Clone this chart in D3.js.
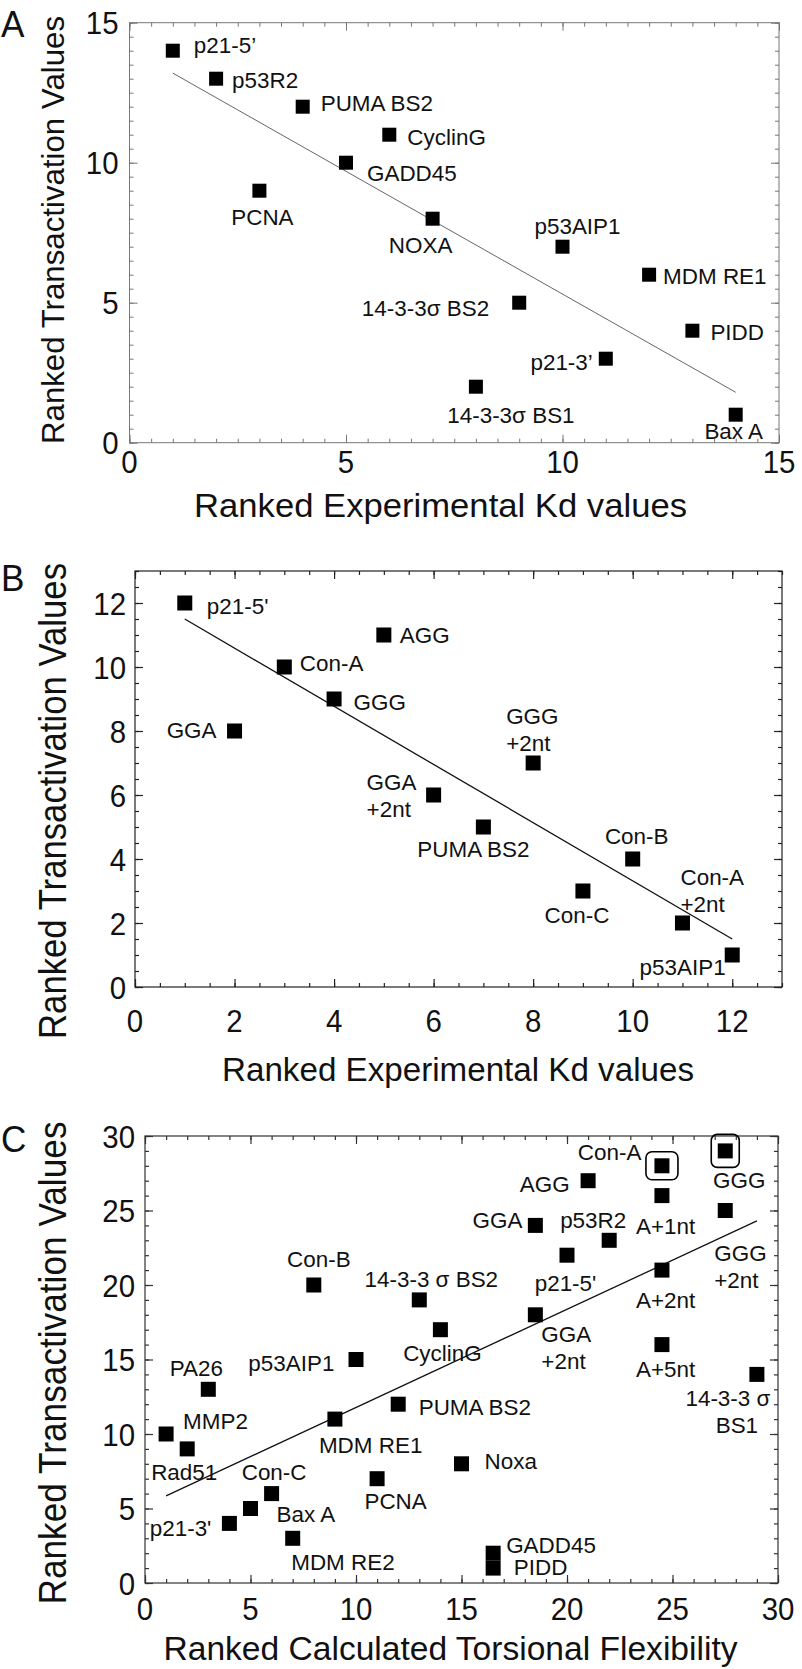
<!DOCTYPE html>
<html><head><meta charset="utf-8">
<script src="https://cdn.jsdelivr.net/npm/d3@7"></script>
<style>
body{margin:0;background:#fff}
svg{display:block}
text{font-family:"Liberation Sans",Arial,Helvetica,sans-serif;fill:#111}
</style>
</head><body>
<svg id="chart" width="802" height="1669"></svg>
<script>
// ---------- DATA ----------
// Panel A
const namesA = ["p21-5\u2019","p53R2","PUMA BS2","CyclinG","GADD45","PCNA","NOXA","p53AIP1","MDM RE1","14-3-3\u03c3 BS2","PIDD","p21-3\u2019","14-3-3\u03c3 BS1","Bax A"];
const xA = [1,2,4,6,5,3,7,10,12,9,13,11,8,14];
const yA = [14,13,12,11,10,9,8,7,6,5,4,3,2,1];
const fitA = [[1,13.2],[14,1.8]];
const xTicksA = [0,5,10,15];
const yTicksA = [0,5,10,15];

// Panel B
const namesB = ["p21-5'","GGA","Con-A","GGG","AGG","GGA\n+2nt","PUMA BS2","GGG\n+2nt","Con-C","Con-B","Con-A\n+2nt","p53AIP1"];
const xB = [1,2,3,4,5,6,7,8,9,10,11,12];
const yB = [12,8,10,9,11,6,5,7,3,4,2,1];
const fitB = [[1,11.5],[12,1.5]];
const xTicksB = [0,2,4,6,8,10,12];
const yTicksB = [0,2,4,6,8,10,12];

// Panel C
const namesC = ["MMP2","Rad51","PA26","p21-3'","Bax A","Con-C","MDM RE2","Con-B","MDM RE1","p53AIP1","PCNA","PUMA BS2","14-3-3 \u03c3 BS2","CyclinG","Noxa","GADD45","PIDD","GGA","GGA\n+2nt","p21-5'","AGG","p53R2","Con-A","A+1nt","A+2nt","A+5nt","GGG","GGG\n+2nt","14-3-3 \u03c3\nBS1"];
const xC = [1,2,3,4,5,6,7,8,9,10,11,12,13,14,15,16.5,16.5,18.5,18.5,20,21,22,24.5,24.5,24.5,24.5,27.5,27.5,29];
const yC = [10,9,13,4,5,6,3,20,11,15,7,12,19,17,8,2,1,24,18,22,27,23,28,26,21,16,29,25,14];
const fitC = [[1,5.85],[29,24.3]];
const boxedC = ["Con-A","GGG"];
const xTicksC = [0,5,10,15,20,25,30];
const yTicksC = [0,5,10,15,20,25,30];

// ---------- LABEL PLACEMENT (pixels relative to marker) ----------
const labA = {
  anchor: ["start","start","start","start","start","middle","middle","middle","start","end","start","end","middle","middle"],
  dx: [21,16,18,18,21,3,-12,15,14,-30,18,-13,35,-2],
  dy: [-6,1,-4,2,10,26,26,-21,1,5,1,3,28,16]
};
const labB = {
  anchor: ["start","end","start","start","start","start","middle","start","middle","middle","start","end"],
  dx: [22,-18,15.5,19.5,16,-67,-10,-27,-6,4,-2,-6.6],
  dy: [3,-1,-4,3,0,[-12.7,14],22,[-47,-20],24,-23,[-46,-19],12]
};
const labC = {
  anchor: ["start","middle","middle","end","start","middle","start","middle","start","end","middle","start","middle","middle","start","start","start","end","start","middle","end","middle","end","middle","middle","middle","middle","start","middle"],
  dx: [17,-3,-12,-18,26,2.5,-1.5,5,-16,-21.6,18.5,20.5,12,2,23,13,20.6,-13,6,-1.5,-18.4,-16,-20.6,3.6,3.6,3.6,14,-11,[-29,-20]],
  dy: [-13,23,-21,4.5,6,-22,24,-26,26,3.3,22,3,-21,23,-3,-8.4,-1,-5.4,[19.6,46.6],28,3.4,-20.7,-13.7,30,30,24,28.7,[42.8,69.8],[24,51]]
};

// ---------- DRAWING ----------
const svg = d3.select("#chart");

function addText(g, str, px, py, o) {
  const t = g.append("text")
    .attr("transform", `translate(${px},${py})` + (o.rotate ? ` rotate(${o.rotate})` : ` scale(${o.sx == null ? 1 : o.sx},1)`))
    .attr("text-anchor", o.anchor || "start")
    .style("font-size", o.size + "px")
    .text(str);
  if (o.len) t.attr("textLength", o.len).attr("lengthAdjust", "spacingAndGlyphs");
  return t;
}

function drawPanel(cfg) {
  const g = svg.append("g");
  const x = d3.scaleLinear().domain(cfg.xDomain).range([cfg.left, cfg.right]);
  const y = d3.scaleLinear().domain(cfg.yDomain).range([cfg.bottom, cfg.top]);

  // ticks (inward on all sides)
  const mk = (axisFn, scale, vals, size, transform) => {
    const a = g.append("g").attr("transform", transform)
      .call(axisFn(scale).tickValues(vals).tickSize(-size).tickFormat(""));
    a.select(".domain").remove();
    a.selectAll(".tick line").attr("stroke", cfg.frameColor).attr("stroke-width", cfg.frameWidth);
  };
  [[cfg.xMinor, cfg.minorLen], [cfg.xMajor, cfg.majorLen]].forEach(([v, s]) => {
    mk(d3.axisBottom, x, v, s, `translate(0,${cfg.bottom})`);
    mk(d3.axisTop, x, v, s, `translate(0,${cfg.top})`);
  });
  [[cfg.yMinor, cfg.minorLen], [cfg.yMajor, cfg.majorLen]].forEach(([v, s]) => {
    mk(d3.axisLeft, y, v, s, `translate(${cfg.left},0)`);
    mk(d3.axisRight, y, v, s, `translate(${cfg.right},0)`);
  });

  // frame
  g.append("rect").attr("x", cfg.left).attr("y", cfg.top)
    .attr("width", cfg.right - cfg.left).attr("height", cfg.bottom - cfg.top)
    .attr("fill", "none").attr("stroke", cfg.frameColor).attr("stroke-width", cfg.frameWidth);

  // tick labels
  cfg.xMajor.forEach(v => addText(g, String(v), x(v), cfg.xLabelBase, {anchor: "middle", size: cfg.tickSize, sx: 0.92}));
  cfg.yMajor.forEach(v => addText(g, String(v), cfg.left - cfg.yLabelGap, y(v) + cfg.tickSize * 0.36, {anchor: "end", size: cfg.tickSize, sx: 0.92}));

  // regression line
  g.append("path").datum(cfg.fit)
    .attr("d", d3.line().x(d => x(d[0])).y(d => y(d[1])))
    .attr("fill", "none").attr("stroke", cfg.lineColor).attr("stroke-width", cfg.lineWidth);

  // markers
  const s = cfg.marker;
  g.selectAll("rect.pt").data(cfg.names.map((n, i) => ({n, x: cfg.xs[i], y: cfg.ys[i]})))
    .join("rect").attr("class", "pt")
    .attr("x", d => x(d.x) - s / 2).attr("y", d => y(d.y) - s / 2)
    .attr("width", s).attr("height", s).attr("fill", "#000");

  // boxes
  if (cfg.boxed) {
    cfg.boxed.forEach((name, k) => {
      const i = cfg.names.indexOf(name);
      const [bw, bh] = cfg.boxSizes[k];
      g.append("rect").attr("x", x(cfg.xs[i]) - bw / 2).attr("y", y(cfg.ys[i]) - bh / 2)
        .attr("width", bw).attr("height", bh).attr("rx", 6).attr("ry", 6)
        .attr("fill", "none").attr("stroke", "#000").attr("stroke-width", 1.6);
    });
  }

  // point labels
  const fs = cfg.labelSize;
  cfg.names.forEach((name, i) => {
    const lines = name.split("\n");
    const cx = x(cfg.xs[i]), cy = y(cfg.ys[i]);
    lines.forEach((ln, j) => {
      const dx = Array.isArray(cfg.lab.dx[i]) ? cfg.lab.dx[i][j] : cfg.lab.dx[i];
      const dy = Array.isArray(cfg.lab.dy[i]) ? cfg.lab.dy[i][j] : cfg.lab.dy[i] + j * 27;
      addText(g, ln, cx + dx, cy + dy + fs * 0.36, {anchor: cfg.lab.anchor[i], size: fs, sx: 1.02});
    });
  });

  // axis titles
  addText(g, cfg.xTitle, cfg.xTitleX, cfg.xTitleBase, {anchor: "start", size: cfg.xTitleSize, len: cfg.xTitleLen});
  addText(g, "Ranked Transactivation Values", cfg.yTitleX, cfg.yTitleY, {anchor: "middle", size: cfg.yTitleSize, len: cfg.yTitleLen, rotate: -90});

  // panel letter
  addText(g, cfg.letter, 1, cfg.letterBase, {anchor: "start", size: 37, sx: 0.95});
}

drawPanel({
  names: namesA, xs: xA, ys: yA, fit: fitA, lab: labA,
  xDomain: [0, 15], yDomain: [0, 15],
  left: 129.5, right: 779, top: 22.7, bottom: 442.7,
  xMajor: xTicksA, yMajor: yTicksA,
  xMinor: d3.range(0, 15.01, 0.5), yMinor: d3.range(0, 15.01, 0.5),
  minorLen: 4, majorLen: 8,
  frameColor: "#777", frameWidth: 1, lineColor: "#666", lineWidth: 1,
  marker: 14, labelSize: 22, tickSize: 32,
  xLabelBase: 473, yLabelGap: 11,
  xTitle: "Ranked Experimental Kd values", xTitleX: 194, xTitleBase: 517, xTitleSize: 34, xTitleLen: 493,
  yTitleX: 64, yTitleY: 230, yTitleSize: 32, yTitleLen: 428,
  letter: "A", letterBase: 37
});

drawPanel({
  names: namesB, xs: xB, ys: yB, fit: fitB, lab: labB,
  xDomain: [0, 13], yDomain: [0, 13],
  left: 135, right: 782, top: 571, bottom: 987,
  xMajor: xTicksB, yMajor: yTicksB,
  xMinor: d3.range(0, 13.01, 0.5), yMinor: d3.range(0, 13.01, 0.5),
  minorLen: 4, majorLen: 8,
  frameColor: "#222", frameWidth: 1.2, lineColor: "#111", lineWidth: 1.3,
  marker: 15, labelSize: 22, tickSize: 32,
  xLabelBase: 1032, yLabelGap: 9,
  xTitle: "Ranked Experimental Kd values", xTitleX: 222, xTitleBase: 1081, xTitleSize: 33, xTitleLen: 472,
  yTitleX: 66, yTitleY: 801, yTitleSize: 38, yTitleLen: 476,
  letter: "B", letterBase: 591
});

drawPanel({
  names: namesC, xs: xC, ys: yC, fit: fitC, lab: labC, boxed: boxedC, boxSizes: [[32, 28], [28, 33]],
  xDomain: [0, 30], yDomain: [0, 30],
  left: 145, right: 778, top: 1136, bottom: 1583,
  xMajor: xTicksC, yMajor: yTicksC,
  xMinor: d3.range(0, 30.01, 1), yMinor: d3.range(0, 30.01, 1),
  minorLen: 4, majorLen: 8,
  frameColor: "#333", frameWidth: 1.2, lineColor: "#111", lineWidth: 1.3,
  marker: 15, labelSize: 22, tickSize: 32,
  xLabelBase: 1620, yLabelGap: 10,
  xTitle: "Ranked Calculated Torsional Flexibility", xTitleX: 163.5, xTitleBase: 1660, xTitleSize: 33, xTitleLen: 574,
  yTitleX: 66, yTitleY: 1363, yTitleSize: 38, yTitleLen: 483,
  letter: "C", letterBase: 1152
});
</script>
</body></html>
